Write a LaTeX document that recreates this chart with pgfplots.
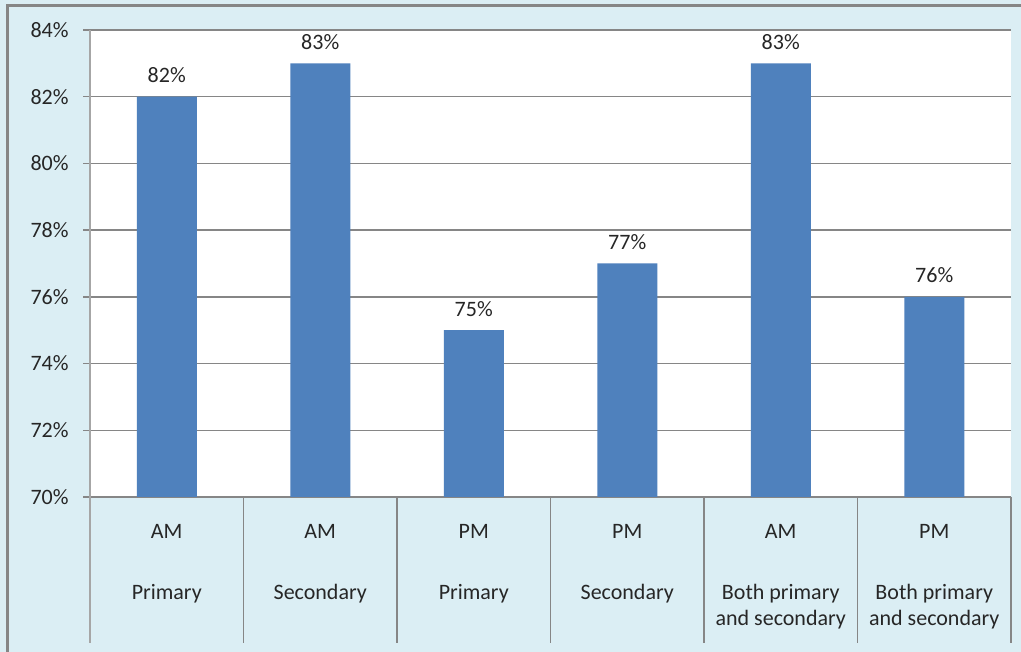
\documentclass[border=0pt]{standalone}
\usepackage{fontspec}
\setmainfont{Carlito}
\usepackage{pgfplots}
\pgfplotsset{compat=1.18}
\definecolor{bgblue}{HTML}{DBEEF4}
\definecolor{barblue}{HTML}{4F81BD}
\definecolor{gridgray}{HTML}{868686}
\definecolor{axgray}{HTML}{A6A6A6}
\begin{document}
\fontsize{11}{13}\selectfont
\begin{tikzpicture}
\fill[bgblue] (0,0) rectangle (510.5pt,326pt);
\useasboundingbox (0,0) rectangle (510.5pt,326pt);
\draw[gridgray, line width=1.3pt] (3.75pt,0) -- (3.75pt,323.1pt) -- (510.5pt,323.1pt);
\begin{axis}[
  at={(45pt,77.5pt)}, anchor=south west,
  width=460.5pt, height=233.5pt, scale only axis,
  ybar, bar width=30pt,
  xmin=-0.5, xmax=5.5, ymin=70, ymax=84,
  ytick={70,72,...,84},
  xtick={0,...,5},
  xticklabels={{AM\\[17.5pt]Primary},{AM\\[17.5pt]Secondary},{PM\\[17.5pt]Primary},{PM\\[17.5pt]Secondary},{AM\\[17.5pt]Both primary\\and secondary},{PM\\[17.5pt]Both primary\\and secondary}},
  xticklabel style={align=center, anchor=north, inner sep=0pt, yshift=-9.75pt, font=\fontsize{11}{13}\selectfont, text=black!85},
  yticklabel style={anchor=east, inner sep=0pt, xshift=-7pt, font=\fontsize{11}{13}\selectfont, text=black!85},
  axis background/.style={fill=white},
  axis x line*=bottom, axis y line*=left,
  x axis line style={gridgray, line width=0.7pt},
  y axis line style={axgray, line width=0.9pt},
  ymajorgrids, grid style={gridgray, line width=0.65pt},
  major x tick style={draw=none},
  ytick style={gridgray, line width=0.65pt},
  tick align=outside, major tick length=3.5pt,
  yticklabel={\pgfmathprintnumber{\tick}\%},
  /pgf/number format/assume math mode=true,
  nodes near coords={\pgfmathprintnumber{\pgfplotspointmeta}\%},
  nodes near coords style={anchor=base, yshift=7pt, font=\fontsize{11}{13}\selectfont, text=black!85},
  clip=false,
]
\addplot[fill=barblue, draw=none] coordinates {(0,82) (1,83) (2,75) (3,77) (4,83) (5,76)};
\pgfplotsinvokeforeach{0.5,1.5,2.5,3.5,4.5,5.5}{
  \draw[gridgray, line width=0.9pt] (axis cs:#1,70) -- ++(0pt,-73pt);
}
\draw[axgray, line width=0.9pt] (axis cs:-0.5,70) -- ++(0pt,-73pt);
\end{axis}
\end{tikzpicture}
\end{document}
